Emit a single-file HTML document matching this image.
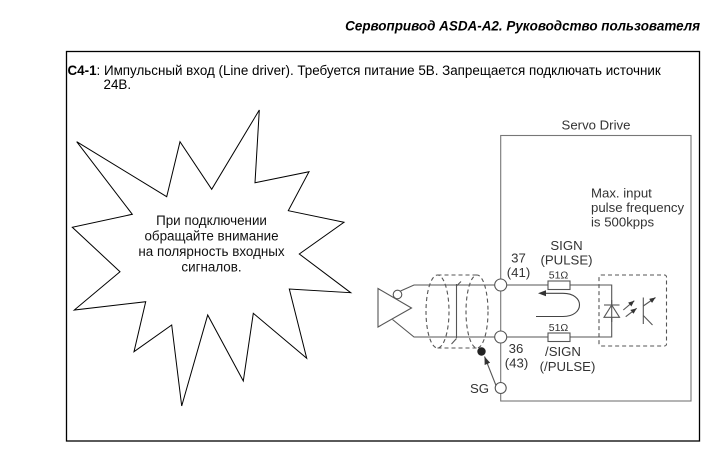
<!DOCTYPE html>
<html>
<head>
<meta charset="utf-8">
<style>
  html, body { margin:0; padding:0; background:#fff; }
  svg { display:block; }
  text { font-family: "Liberation Sans", "Noto Sans CJK SC", sans-serif; }
</style>
</head>
<body>
<svg width="728" height="455" viewBox="0 0 728 455" xmlns="http://www.w3.org/2000/svg">
  <defs>
    <marker id="ah" viewBox="0 0 8 6" refX="8" refY="3" markerWidth="8" markerHeight="6" markerUnits="userSpaceOnUse" orient="auto">
      <path d="M0,0 L8,3 L0,6 z" fill="#333"/>
    </marker>
    <marker id="ah2" viewBox="0 0 6 5" refX="6" refY="2.5" markerWidth="6" markerHeight="5" markerUnits="userSpaceOnUse" orient="auto">
      <path d="M0,0 L6,2.5 L0,5 z" fill="#333"/>
    </marker>
  </defs>

  <rect x="0" y="0" width="728" height="455" fill="#fff"/>

  <!-- Header -->
  <text x="700" y="30.5" text-anchor="end" font-size="13.45" font-weight="bold" font-style="italic" fill="#000">Сервопривод ASDA-A2. Руководство пользователя</text>

  <!-- Outer box -->
  <rect x="66.5" y="51.5" width="633" height="389.5" fill="none" stroke="#000" stroke-width="1.3"/>

  <text x="67.5" y="75" font-size="13.4" fill="#000"><tspan font-weight="bold">C4-1</tspan>: Импульсный вход (Line driver). Требуется питание 5В. Запрещается подключать источник</text>
  <text x="103.5" y="89" font-size="13.4" fill="#000">24В.</text>

  <!-- Star -->
  <polygon fill="#fff" stroke="#000" stroke-width="1"
    points="76.7,141.7 166.7,196.7 180,141.7 211.7,189.3 259.3,110 255,182.7 309,171.7 288.3,210.7 344,222.3 299.3,254 350.7,292.7 289.3,289 306.7,358.3 253.3,313.3 243.3,381 207.7,315 181.7,406 171.7,325 134,351.7 145.7,301.7 74.3,310 120,271.7 72.3,227.3 132.3,214.3"/>
  <g font-size="13.4" fill="#111" text-anchor="middle">
    <text x="211.5" y="225">При подключении</text>
    <text x="211.5" y="240.5">обращайте внимание</text>
    <text x="211.5" y="256">на полярность входных</text>
    <text x="211.5" y="271.5">сигналов.</text>
  </g>

  <!-- Servo drive box -->
  <rect x="500.7" y="135.5" width="190.3" height="265.5" fill="none" stroke="#777" stroke-width="1.1"/>
  <text x="596" y="129.5" font-size="13.2" fill="#333" text-anchor="middle">Servo Drive</text>

  <g font-size="13.2" fill="#333">
    <text x="591" y="197.5">Max. input</text>
    <text x="591" y="212">pulse frequency</text>
    <text x="591" y="226.5">is 500kpps</text>
  </g>

  <g font-size="13.2" fill="#333" text-anchor="middle">
    <text x="566.5" y="250">SIGN</text>
    <text x="566.5" y="264.5">(PULSE)</text>
    <text x="518.5" y="262.5">37</text>
    <text x="518.5" y="277">(41)</text>
    <text x="516" y="353">36</text>
    <text x="516.5" y="367.5">(43)</text>
    <text x="563" y="356">/SIGN</text>
    <text x="567.5" y="371">(/PULSE)</text>
    <text x="479.5" y="393">SG</text>
  </g>
  <g font-size="10.5" fill="#333" text-anchor="middle">
    <text x="558.5" y="278.5">51Ω</text>
    <text x="558.5" y="331">51Ω</text>
  </g>

  <g stroke="#555" stroke-width="1.1" fill="none">
    <!-- line driver -->
    <polygon points="378,288.5 411.5,308 378,327" fill="#fff"/>
    <polyline points="400.5,291 414,285 500.7,285"/>
    <polyline points="392.5,319.5 414,337 500.7,337"/>

    <!-- shield drain -->
    <line x1="456.5" y1="284" x2="456.5" y2="338"/>
    <line x1="456.5" y1="286" x2="461" y2="281.5"/>
    <line x1="456.5" y1="338.5" x2="451.5" y2="344"/>

    <!-- shield dashed cylinder -->
    <g stroke-dasharray="4,3">
      <ellipse cx="437.5" cy="311.5" rx="11.5" ry="36.5"/>
      <ellipse cx="477" cy="311.5" rx="11" ry="36.5"/>
      <line x1="437.5" y1="275" x2="477" y2="275"/>
      <line x1="437.5" y1="348" x2="477" y2="348"/>
    </g>

    <!-- right wires -->
    <line x1="500.7" y1="285" x2="548" y2="285"/>
    <line x1="500.7" y1="337" x2="548" y2="337"/>
    <polyline points="570,285 611.7,285 611.7,337 570,337"/>
    <rect x="548" y="281" width="22" height="8.5" fill="#fff"/>
    <rect x="548" y="333" width="22" height="8.5" fill="#fff"/>

    <!-- current loop arrow -->
    <path d="M545,293.3 L563,293.3 C585,293.3 585,316.5 563,316.5 L536,316.5" stroke="#444"/>

    <!-- optocoupler box -->
    <rect x="599" y="275" width="67.5" height="71" rx="2" stroke-dasharray="4,3"/>

    <!-- diode -->
    <line x1="604" y1="305" x2="619.5" y2="305"/>
    <polygon points="611.7,305 604,317.3 619.5,317.3" fill="#fff"/>
    <line x1="611.7" y1="300" x2="611.7" y2="322"/>

    <!-- LED arrows -->
    <line x1="623.3" y1="310" x2="634.3" y2="300.7" marker-end="url(#ah2)"/>
    <line x1="625.7" y1="316.7" x2="636.7" y2="308.3" marker-end="url(#ah2)"/>

    <!-- phototransistor -->
    <line x1="643.3" y1="297.5" x2="643.3" y2="324"/>
    <line x1="643.3" y1="306" x2="655.5" y2="297.5" marker-end="url(#ah2)"/>
    <line x1="643.3" y1="315.5" x2="652.5" y2="325"/>

    <!-- SG arrow -->
    <line x1="496" y1="385.5" x2="484.5" y2="356.5" marker-end="url(#ah)"/>

    <!-- terminal circles -->
    <circle cx="500.7" cy="285" r="6" fill="#fff"/>
    <circle cx="500.7" cy="337" r="6" fill="#fff"/>
    <circle cx="500.7" cy="388" r="5.5" fill="#fff"/>
    <circle cx="397.5" cy="294.5" r="4.3" fill="#fff"/>
  </g>
  <!-- arrowhead of current loop -->
  <polygon points="538,293.3 546,290.3 546,296.3" fill="#333"/>
  <!-- shield dot -->
  <circle cx="481.5" cy="351.5" r="4.2" fill="#222"/>
</svg>
</body>
</html>
